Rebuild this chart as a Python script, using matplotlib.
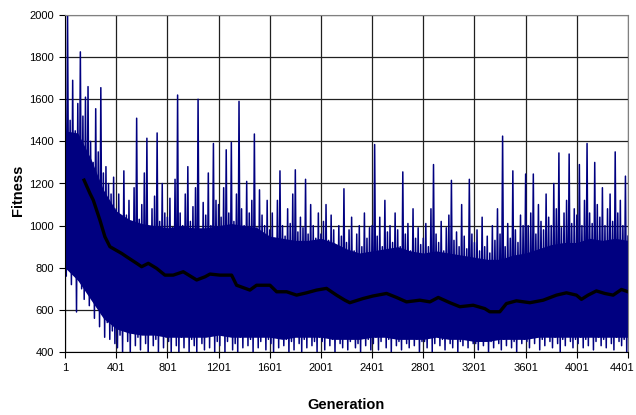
import numpy as np
import matplotlib.pyplot as plt
import matplotlib.transforms as mtransforms

plt.rcParams['font.family'] = ['Liberation Sans', 'DejaVu Sans']
plt.rcParams['path.simplify'] = False

# raw fitness, every 10 generations:
# peaks at generations 1, 21, 41, ... and troughs at 11, 31, 51, ...
peaks = [
    1800, 2000, 1500, 1690, 1450, 1580, 1825, 1520, 1610, 1660, 1400, 1300, 1555, 1350, 1655, 1250, 1280, 1200, 1150, 1230,
    1080, 1150, 980, 1260, 1050, 1120, 1000, 1180, 1510, 1030, 1100, 1250, 1415, 990, 1080, 1140, 1440, 1020, 1200, 1060,
    1040, 1130, 990, 1220, 1620, 1060, 1000, 1150, 1280, 1020, 1090, 1180, 1600, 980, 1110, 1050, 1250, 1000, 1390, 1120,
    1100, 1040, 1180, 1360, 1060, 1395, 1020, 1150, 1590, 1080, 1000, 1210, 1060, 1120, 1435, 990, 1170, 1050, 1000, 1120,
    980, 1060, 940, 1120, 1260, 1000, 950, 1080, 1010, 1150, 1265, 970, 1040, 990, 1220, 960, 1100, 1000, 940, 1060,
    960, 1020, 1100, 930, 1050, 980, 900, 1000, 950, 1175, 920, 980, 1040, 880, 960, 1000, 900, 1060, 940, 990,
    1000, 1385, 950, 1040, 900, 1120, 970, 1000, 920, 1060, 980, 900, 1255, 960, 1010, 880, 1080, 940, 990, 910,
    940, 1010, 900, 1080, 1290, 960, 920, 1020, 880, 990, 1050, 1215, 930, 970, 900, 1100, 950, 890, 1220, 960,
    920, 980, 880, 1040, 900, 950, 870, 1000, 930, 1080, 960, 1425, 900, 1010, 940, 1260, 980, 920, 1050, 1000,
    1245, 1000, 1060, 1245, 960, 1100, 1020, 980, 1150, 1040, 1000, 1200, 1080, 1345, 990, 1060, 1120, 1340, 1010, 1080,
    1050, 1290, 1000, 1120, 1390, 1060, 1010, 1300, 1100, 1040, 1180, 1000, 1080, 1150, 1020, 1350, 1060, 1120, 1000, 1235,
    950,
]
troughs = [
    760, 800, 720, 780, 590, 740, 700, 650, 720, 620, 680, 560, 640, 520, 580, 470, 540, 460, 500, 440,
    420, 480, 400, 530, 450, 390, 500, 430, 470, 410, 520, 440, 380, 490, 430, 460, 400, 540, 420, 470,
    450, 400, 510, 430, 380, 470, 420, 540, 400, 460, 430, 390, 500, 440, 410, 480, 420, 520, 400, 450,
    430, 480, 400, 450, 510, 410, 440, 390, 470, 420, 500, 430, 460, 400, 480, 420, 450, 520, 410, 460,
    440, 400, 470, 420, 500, 430, 460, 390, 450, 410, 480, 440, 400, 460, 420, 510, 430, 450, 400, 470,
    450, 410, 480, 430, 460, 400, 500, 440, 420, 470, 410, 450, 490, 420, 440, 400, 470, 430, 460, 410,
    440, 470, 410, 450, 500, 420, 460, 400, 480, 430, 450, 410, 470, 440, 420, 490, 430, 460, 400, 450,
    450, 420, 470, 400, 440, 490, 430, 460, 410, 480, 440, 420, 470, 400, 450, 430, 490, 420, 460, 440,
    440, 410, 460, 430, 480, 400, 450, 420, 470, 440, 410, 460, 430, 490, 420, 450, 400, 470, 440, 460,
    450, 420, 470, 440, 490, 410, 460, 430, 480, 450, 420, 470, 440, 400, 460, 430, 480, 450, 420, 460,
    440, 470, 420, 460, 430, 490, 410, 450, 470, 430, 460, 420, 480, 440, 410, 470, 450, 430, 460, 400,
]

# where the 4401 raw points overlap into a solid navy band (every 100 generations)
band_gen = list(range(1, 4402, 100))
band_top = [1450, 1440, 1320, 1170, 1070, 1030, 1010, 1000, 990, 1000, 990, 990, 1000, 1010, 1000,
            990, 950, 940, 930, 930, 940, 920, 890, 870, 880, 890, 900, 880, 870, 880,
            870, 860, 850, 840, 840, 860, 870, 890, 910, 920, 920, 940, 930, 940, 930]
band_bot = [800, 740, 650, 560, 510, 490, 480, 480, 470, 470, 470, 470, 480, 470, 470,
            470, 470, 460, 470, 470, 470, 460, 460, 460, 470, 470, 460, 460, 460, 470,
            460, 460, 450, 450, 460, 460, 460, 470, 470, 470, 470, 470, 470, 470, 470]

# moving average (black curve)
ma_gen = [150, 196, 222, 274, 313, 352, 444, 483, 561, 600, 652, 717, 782, 847, 925, 1030,
          1095, 1134, 1212, 1303, 1342, 1446, 1498, 1603, 1655, 1733, 1811, 1889, 1967, 2045,
          2123, 2188, 2227, 2331, 2409, 2514, 2592, 2670, 2774, 2853, 2918, 3009, 3087, 3191,
          3282, 3321, 3399, 3451, 3529, 3634, 3738, 3842, 3920, 3998, 4037, 4089, 4154, 4219,
          4285, 4350, 4401]
ma_val = [1216, 1153, 1121, 1026, 947, 900, 868, 852, 821, 805, 821, 797, 765, 765, 781, 742,
          757, 770, 765, 765, 717, 694, 717, 717, 686, 686, 670, 681, 694, 702,
          670, 646, 634, 654, 666, 678, 659, 638, 646, 638, 659, 634, 615, 622,
          606, 591, 591, 630, 643, 634, 646, 670, 681, 670, 650, 670, 690, 678,
          670, 697, 686]

xticks = list(range(1, 4402, 400))
yticks = list(range(400, 2001, 200))

# zip peaks and troughs into one series
fitness = []
for i, p in enumerate(peaks):
    fitness.append(p)
    if i < len(troughs):
        fitness.append(troughs[i])
gen = np.arange(1, 4402, 10)

fig = plt.figure(figsize=(6.36, 4.15), dpi=100)
ax = fig.add_axes([65 / 636, 1 - 352 / 415, 563 / 636, 337 / 415])

ax.fill_between(band_gen, band_bot, band_top, color='#000080', lw=0)
ax.plot(gen, fitness, color='#000080', lw=1.1)
ax.plot(ma_gen, ma_val, color='black', lw=2.4)

ax.set_xlim(1, 4401)
ax.set_ylim(400, 2000)
ax.set_xticks(xticks)
ax.set_yticks(yticks)
ax.grid(True, color='#202020', lw=0.9)
ax.set_axisbelow(True)

for side in ['top', 'right']:
    ax.spines[side].set_color('#808080')
for side in ['left', 'bottom']:
    ax.spines[side].set_color('black')
ax.tick_params(direction='out', length=4, width=0.8, labelsize=8, pad=4)

# last label would run off the right edge
last = ax.get_xticklabels()[-1]
last.set_transform(last.get_transform() +
                   mtransforms.ScaledTranslation(-6 / 100, 0, fig.dpi_scale_trans))

fig.text(346 / 636, 1 - 405 / 415, 'Generation', ha='center', va='center',
         fontsize=10.5, fontweight='bold')
fig.text(18 / 636, 1 - 190 / 415, 'Fitness', ha='center', va='center',
         rotation=90, fontsize=10.5, fontweight='bold')

fig.savefig('out.png', dpi=100)
